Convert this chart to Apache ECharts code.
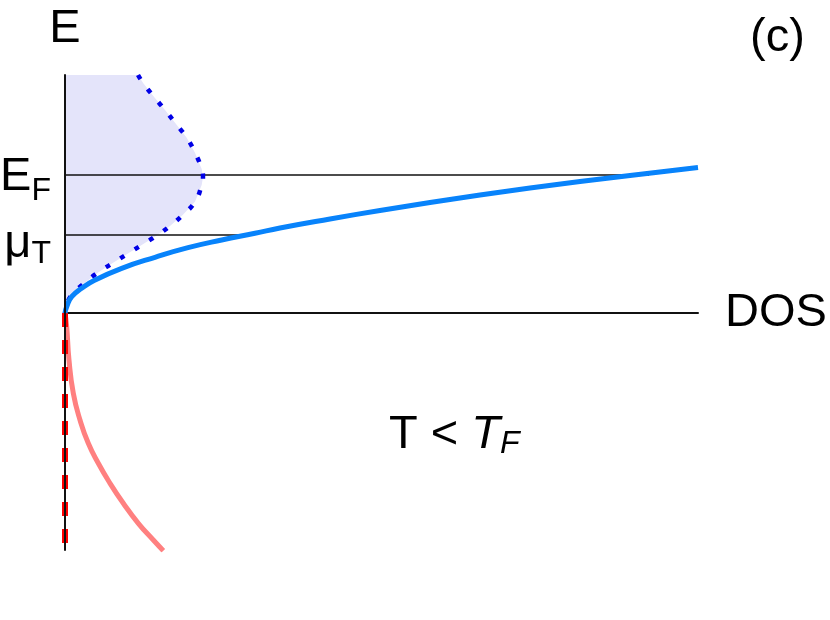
<!DOCTYPE html>
<html>
<head>
<meta charset="utf-8">
<script src="https://cdn.jsdelivr.net/npm/echarts@6/dist/echarts.min.js"></script>
<style>
  html, body { margin: 0; padding: 0; background: #fff; }
  #dosChart { width: 830px; height: 620px; }
</style>
</head>
<body>
<div id="dosChart"></div>
<script>
  // energy levels (same units as the E axis)
  const levelNames = ["μT", "EF"];
  const levelValues = [0.78, 1.38];
  const levelEnds = [1.85, 5.84];

  // density of states, [DOS, E]
  const dosCurve = [
    [0, 0], [0.017, 0.063], [0.067, 0.163], [0.167, 0.247], [0.30, 0.33],
    [0.567, 0.447], [0.90, 0.557], [1.23, 0.653], [1.567, 0.73], [1.90, 0.797],
    [2.15, 0.85], [2.65, 0.94], [3.15, 1.025], [3.65, 1.105], [4.15, 1.18],
    [4.65, 1.25], [5.15, 1.315], [5.65, 1.375], [6.33, 1.455]
  ];

  // occupied states at T < TF (dotted edge of the shaded area), top to bottom
  const occupiedCurve = [
    [0.73, 2.38], [0.783, 2.297], [0.893, 2.157], [1.00, 2.03], [1.11, 1.89],
    [1.217, 1.753], [1.30, 1.603], [1.367, 1.44], [1.38, 1.36], [1.367, 1.28],
    [1.30, 1.113], [1.177, 0.98], [1.05, 0.87], [0.91, 0.77], [0.767, 0.68],
    [0.617, 0.587], [0.473, 0.497], [0.327, 0.403], [0.193, 0.297],
    [0.067, 0.18], [0.012, 0.06], [0, 0]
  ];

  // negative-energy branch
  const lowerCurve = [
    [0, 0], [0.017, -0.137], [0.04, -0.47], [0.083, -0.803], [0.15, -1.07],
    [0.233, -1.303], [0.333, -1.503], [0.45, -1.703], [0.583, -1.903],
    [0.733, -2.103], [0.883, -2.27], [0.983, -2.377]
  ];
  const lowerDashed = [[0, 0], [0, -2.37]];

  const xRange = [0, 6.33];
  const yRange = [-2.37, 2.38];

  const font = "'Liberation Sans', Arial, sans-serif";
  const fillEdge = [[0, yRange[1]]].concat(occupiedCurve);

  const levelSeries = levelValues.map((v, i) => ({
    name: levelNames[i],
    type: "line",
    data: [[0, v], [levelEnds[i], v]],
    symbol: "none",
    silent: true,
    z: 2,
    lineStyle: { color: "#111", width: 1.3 },
  }));

  const options = {
    animation: false,
    grid: { left: 65, right: 132, top: 75, bottom: 70, outerBoundsMode: "none", containLabel: false },
    title: [
      {
        text: "(c)", left: 745, top: 10,
        textStyle: { fontFamily: font, fontSize: 47, fontWeight: "normal", color: "#000" },
      },
      {
        text: "{n|T < }{i|T}{s|F}", left: 384, top: 405,
        textStyle: {
          fontFamily: font, fontSize: 47, fontWeight: "normal", color: "#000",
          rich: {
            n: { fontFamily: font, fontSize: 47, color: "#000" },
            i: { fontFamily: font, fontSize: 47, fontStyle: "italic", color: "#000" },
            s: { fontFamily: font, fontSize: 32, fontStyle: "italic", color: "#000", padding: [18, 0, 0, 0] },
          },
        },
      },
    ],
    xAxis: {
      type: "value",
      min: xRange[0],
      max: xRange[1],
      name: "DOS",
      nameLocation: "end",
      nameGap: 27,
      nameTextStyle: { fontFamily: font, fontSize: 47, color: "#000" },
      axisLine: { onZero: true, lineStyle: { color: "#111", width: 2 } },
      axisTick: { show: false },
      axisLabel: { show: false },
      splitLine: { show: false },
    },
    yAxis: {
      type: "value",
      min: yRange[0],
      max: yRange[1],
      z: 10,
      name: "E",
      nameLocation: "end",
      nameGap: 22,
      nameTextStyle: { fontFamily: font, fontSize: 47, color: "#000", align: "center" },
      axisLine: { lineStyle: { color: "#111", width: 2 } },
      axisTick: { show: false },
      splitLine: { show: false },
      axisLabel: {
        customValues: levelValues,
        margin: 14,
        formatter: function (v) {
          const i = levelValues.indexOf(v);
          const n = levelNames[i] || "";
          const k = i === 0 ? "2" : "";
          return "{m" + k + "|" + n.charAt(0) + "}{s" + k + "|" + n.charAt(1) + "}";
        },
        rich: {
          m: { fontFamily: font, fontSize: 47, color: "#000", padding: [4, 0, 0, 0] },
          s: { fontFamily: font, fontSize: 32, color: "#000", padding: [32, 0, 0, 0] },
          m2: { fontFamily: font, fontSize: 47, color: "#000", padding: [18, 0, 0, 0] },
          s2: { fontFamily: font, fontSize: 32, color: "#000", padding: [38, 0, 0, 0] },
        },
      },
    },
    series: [
      {
        name: "occupied",
        type: "custom",
        data: fillEdge,
        z: 1,
        silent: true,
        renderItem: function (params, api) {
          if (params.dataIndex !== 0) return;
          const pts = fillEdge.map((p) => api.coord(p));
          return { type: "polygon", shape: { points: pts }, style: { fill: "#e4e4fa" } };
        },
      },
      ...levelSeries,
      {
        name: "f(E) DOS",
        type: "line",
        data: occupiedCurve,
        smooth: true,
        symbol: "none",
        z: 3,
        lineStyle: { color: "#0000e6", width: 4.5, type: [5, 12] },
      },
      {
        name: "DOS",
        type: "line",
        data: dosCurve,
        smooth: true,
        symbol: "none",
        z: 4,
        lineStyle: { color: "#0883fb", width: 5 },
      },
      {
        name: "lower",
        type: "line",
        data: lowerCurve,
        smooth: true,
        symbol: "none",
        z: 3,
        lineStyle: { color: "#ff8080", width: 5 },
      },
      {
        name: "lower dashed",
        type: "line",
        data: lowerDashed,
        symbol: "none",
        z: 3,
        lineStyle: { color: "#ff0000", width: 6, type: [14, 13] },
      },
    ],
  };

  let dom = document.getElementById("dosChart");
  let myChart = echarts.init(dom);
  myChart.setOption(options);
  window.addEventListener("resize", () => myChart.resize(), false);
</script>
</body>
</html>
